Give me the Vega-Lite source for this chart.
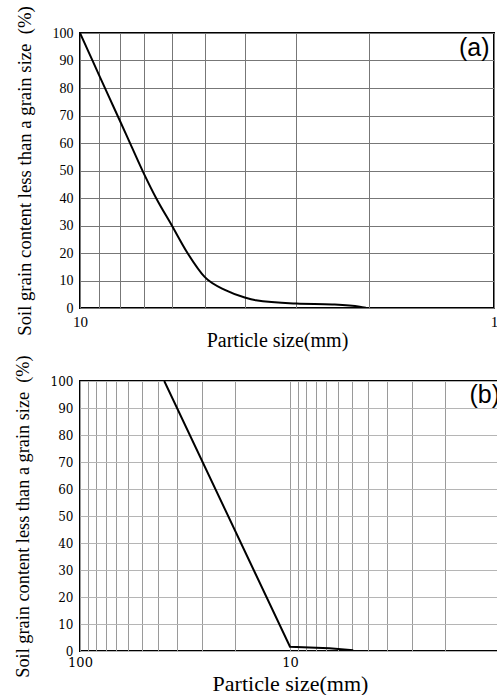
{
  "$schema": "https://vega.github.io/schema/vega-lite/v6.json",
  "padding": {"left": 12, "top": 4, "right": 0, "bottom": 0},
  "background": "white",
  "bounds": "flush",
  "spacing": 73,
  "datasets": {
    "a": [
      {"size": 10, "pct": 100},
      {"size": 9.5, "pct": 92.6},
      {"size": 9, "pct": 84.8},
      {"size": 8.5, "pct": 76.6},
      {"size": 8, "pct": 67.9},
      {"size": 7.5, "pct": 58.6},
      {"size": 7, "pct": 48.7},
      {"size": 6.55, "pct": 40},
      {"size": 6, "pct": 30},
      {"size": 5.5, "pct": 20},
      {"size": 5, "pct": 11.3},
      {"size": 4.44, "pct": 6.4},
      {"size": 4, "pct": 3.8},
      {"size": 3.76, "pct": 2.8},
      {"size": 3, "pct": 1.6},
      {"size": 2.46, "pct": 1.3},
      {"size": 2.11, "pct": 0.5},
      {"size": 2.04, "pct": 0.1}
    ],
    "b": [
      {"size": 39.7, "pct": 100},
      {"size": 10, "pct": 1.6},
      {"size": 6.5, "pct": 1.0},
      {"size": 5, "pct": 0.3}
    ]
  },
  "vconcat": [
    {
      "width": 414,
      "height": 275,
      "view": {"stroke": "black", "strokeWidth": 2},
      "layer": [
        {
          "data": {"name": "a"},
          "mark": {"type": "line", "color": "black", "strokeWidth": 2, "interpolate": "monotone", "clip": true},
          "encoding": {
            "x": {
              "field": "size", "type": "quantitative",
              "scale": {"type": "log", "domain": [1, 10], "reverse": true, "nice": false},
              "axis": {
                "values": [10, 9, 8, 7, 6, 5, 4, 3, 2, 1],
                "labelExpr": "datum.value == 10 ? '10' : datum.value == 1 ? '1' : ''",
                "grid": true, "gridColor": "#777", "gridOpacity": 1, "gridWidth": 1,
                "ticks": false, "domain": false,
                "labelFont": "Liberation Serif", "labelFontSize": 15, "labelColor": "black", "labelPadding": 6,
                "labelFlush": false, "labelOverlap": false,
                "title": "Particle size(mm)", "titleFont": "Liberation Serif", "titleFontSize": 20,
                "titleFontWeight": "normal", "titleColor": "black", "titlePadding": 1, "titleX": 197
              }
            },
            "y": {
              "field": "pct", "type": "quantitative",
              "scale": {"domain": [0, 100], "nice": false},
              "axis": {
                "values": [0, 10, 20, 30, 40, 50, 60, 70, 80, 90, 100],
                "tickCount": 11,
                "grid": true, "gridColor": "#777", "gridOpacity": 1, "gridWidth": 1,
                "ticks": false, "domain": false,
                "labelFont": "Liberation Serif", "labelFontSize": 14, "labelColor": "black", "labelPadding": 7,
                "labelOverlap": false,
                "title": "Soil grain content less than a grain size\u00a0\u00a0(%)",
                "titleFont": "Liberation Serif", "titleFontSize": 18.7, "titleFontWeight": "normal",
                "titleColor": "black", "titlePadding": 18, "titleLimit": 1000
              }
            }
          }
        },
        {
          "data": {"values": [{"panel": "(a)"}]},
          "mark": {"type": "text", "font": "Liberation Sans", "fontSize": 25, "align": "right", "baseline": "middle", "color": "black"},
          "encoding": {
            "x": {
              "datum": 1.025, "type": "quantitative",
              "axis": {
                "values": [10, 9, 8, 7, 6, 5, 4, 3, 2, 1],
                "labelExpr": "datum.value == 10 ? '10' : datum.value == 1 ? '1' : ''",
                "grid": true, "gridColor": "#777", "gridOpacity": 1, "gridWidth": 1,
                "ticks": false, "domain": false,
                "labelFont": "Liberation Serif", "labelFontSize": 15, "labelColor": "black", "labelPadding": 6,
                "labelFlush": false, "labelOverlap": false,
                "title": "Particle size(mm)", "titleFont": "Liberation Serif", "titleFontSize": 20,
                "titleFontWeight": "normal", "titleColor": "black", "titlePadding": 1, "titleX": 197
              }
            },
            "y": {
              "datum": 94.5, "type": "quantitative",
              "axis": {
                "values": [0, 10, 20, 30, 40, 50, 60, 70, 80, 90, 100],
                "tickCount": 11,
                "grid": true, "gridColor": "#777", "gridOpacity": 1, "gridWidth": 1,
                "ticks": false, "domain": false,
                "labelFont": "Liberation Serif", "labelFontSize": 14, "labelColor": "black", "labelPadding": 7,
                "labelOverlap": false,
                "title": "Soil grain content less than a grain size\u00a0\u00a0(%)",
                "titleFont": "Liberation Serif", "titleFontSize": 18.7, "titleFontWeight": "normal",
                "titleColor": "black", "titlePadding": 18, "titleLimit": 1000
              }
            },
            "text": {"field": "panel"}
          }
        }
      ]
    },
    {
      "width": 420,
      "height": 270,
      "view": {"stroke": "black", "strokeWidth": 2},
      "layer": [
        {
          "data": {"name": "b"},
          "mark": {"type": "line", "color": "black", "strokeWidth": 2, "clip": true},
          "encoding": {
            "x": {
              "field": "size", "type": "quantitative",
              "scale": {"type": "log", "domain": [1, 100], "reverse": true, "nice": false},
              "axis": {
                "values": [100, 91.82, 83.64, 75.45, 67.27, 59.09, 50.91, 42.73, 34.55, 26.36, 18.18, 10, 9.182, 8.364, 7.545, 6.727, 5.909, 5.091, 4.273, 3.455, 2.636, 1.818, 1],
                "labelExpr": "datum.value == 100 ? '100' : datum.value == 10 ? '10' : datum.value == 1 ? '1' : ''",
                "grid": true, "gridColor": "#9a9a9a", "gridOpacity": 1, "gridWidth": 1,
                "ticks": false, "domain": false,
                "labelFont": "DejaVu Serif", "labelFontSize": 13, "labelColor": "black", "labelPadding": 5,
                "labelFlush": false, "labelOverlap": false,
                "title": "Particle size(mm)", "titleFont": "Liberation Serif", "titleFontSize": 22,
                "titleFontWeight": "normal", "titleColor": "black", "titlePadding": 4
              }
            },
            "y": {
              "field": "pct", "type": "quantitative",
              "scale": {"domain": [0, 100], "nice": false},
              "axis": {
                "values": [0, 10, 20, 30, 40, 50, 60, 70, 80, 90, 100],
                "tickCount": 11,
                "grid": true, "gridColor": "#b5b5b5", "gridOpacity": 1, "gridWidth": 1,
                "ticks": false, "domain": false,
                "labelFont": "DejaVu Serif", "labelFontSize": 12, "labelColor": "black", "labelPadding": 7,
                "labelOverlap": false,
                "title": "Soil grain content less than a grain size\u00a0\u00a0(%)",
                "titleFont": "Liberation Serif", "titleFontSize": 18.3, "titleFontWeight": "normal",
                "titleColor": "black", "titlePadding": 18, "titleLimit": 1000
              }
            }
          }
        },
        {
          "data": {"values": [{"panel": "(b)"}]},
          "mark": {"type": "text", "font": "Liberation Sans", "fontSize": 25, "align": "right", "baseline": "middle", "color": "black"},
          "encoding": {
            "x": {
              "datum": 1.0, "type": "quantitative",
              "axis": {
                "values": [100, 91.82, 83.64, 75.45, 67.27, 59.09, 50.91, 42.73, 34.55, 26.36, 18.18, 10, 9.182, 8.364, 7.545, 6.727, 5.909, 5.091, 4.273, 3.455, 2.636, 1.818, 1],
                "labelExpr": "datum.value == 100 ? '100' : datum.value == 10 ? '10' : datum.value == 1 ? '1' : ''",
                "grid": true, "gridColor": "#9a9a9a", "gridOpacity": 1, "gridWidth": 1,
                "ticks": false, "domain": false,
                "labelFont": "DejaVu Serif", "labelFontSize": 13, "labelColor": "black", "labelPadding": 5,
                "labelFlush": false, "labelOverlap": false,
                "title": "Particle size(mm)", "titleFont": "Liberation Serif", "titleFontSize": 22,
                "titleFontWeight": "normal", "titleColor": "black", "titlePadding": 4
              }
            },
            "y": {
              "datum": 95, "type": "quantitative",
              "axis": {
                "values": [0, 10, 20, 30, 40, 50, 60, 70, 80, 90, 100],
                "tickCount": 11,
                "grid": true, "gridColor": "#b5b5b5", "gridOpacity": 1, "gridWidth": 1,
                "ticks": false, "domain": false,
                "labelFont": "DejaVu Serif", "labelFontSize": 12, "labelColor": "black", "labelPadding": 7,
                "labelOverlap": false,
                "title": "Soil grain content less than a grain size\u00a0\u00a0(%)",
                "titleFont": "Liberation Serif", "titleFontSize": 18.3, "titleFontWeight": "normal",
                "titleColor": "black", "titlePadding": 18, "titleLimit": 1000
              }
            },
            "text": {"field": "panel"}
          }
        }
      ]
    }
  ],
  "config": {
    "axis": {"gridCap": "butt"}
  }
}
